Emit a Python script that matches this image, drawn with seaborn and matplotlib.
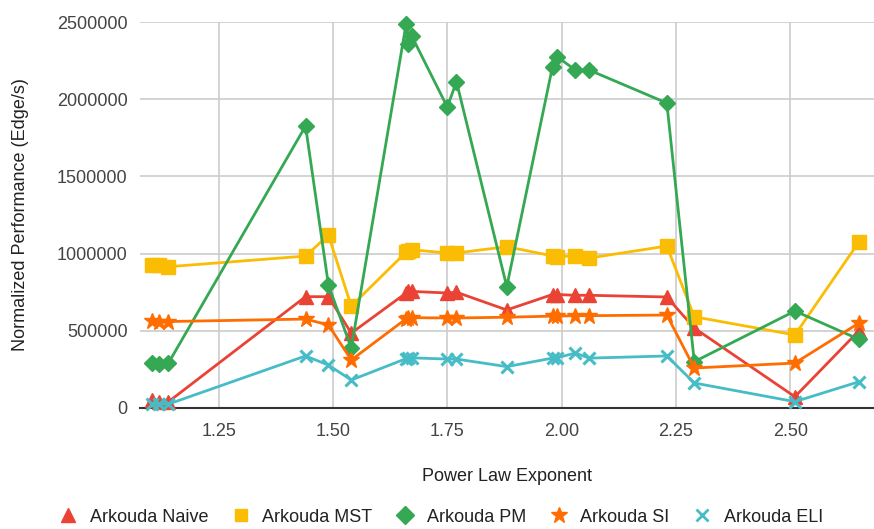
import numpy as np
import pandas as pd
import matplotlib
matplotlib.use("Agg")
import matplotlib.pyplot as plt
from matplotlib.lines import Line2D
from matplotlib.ticker import FixedLocator, FixedFormatter
import seaborn as sns

# ---- data ----
exponent = [1.105, 1.12, 1.14, 1.44, 1.49, 1.54, 1.66, 1.665, 1.672, 1.75, 1.77,
            1.88, 1.98, 1.99, 2.03, 2.06, 2.23, 2.29, 2.51, 2.65]

naive = [50000, 40000, 40000, 721000, 721000, 485000, 745000, 760000, 755000, 745000,
         750000, 635000, 735000, 735000, 730000, 730000, 719000, 518000, 73000, 500000]
mst = [926000, 926000, 915000, 984000, 1120000, 660000, 1010000, 1015000, 1025000, 1004000,
       1004000, 1045000, 985000, 980000, 985000, 971000, 1049000, 591000, 473000, 1075000]
pm = [290000, 285000, 290000, 1826000, 797000, 388000, 2490000, 2360000, 2410000, 1949000,
      2114000, 786000, 2211000, 2275000, 2189000, 2189000, 1975000, 300000, 628000, 445000]
si = [565000, 560000, 560000, 576000, 538000, 311000, 578000, 583000, 585000, 583000,
      583000, 588000, 595000, 595000, 598000, 598000, 602000, 259000, 291000, 550000]
eli = [28000, 25000, 25000, 337000, 278000, 181000, 320000, 323000, 325000, 317000,
       317000, 268000, 323000, 325000, 356000, 323000, 337000, 162000, 41000, 170000]

series_names = ["Arkouda Naive", "Arkouda MST", "Arkouda PM", "Arkouda SI", "Arkouda ELI"]
series_values = [naive, mst, pm, si, eli]

x_ticks = [1.25, 1.50, 1.75, 2.00, 2.25, 2.50]
x_tick_labels = ["1.25", "1.50", "1.75", "2.00", "2.25", "2.50"]
y_ticks = [0, 500000, 1000000, 1500000, 2000000, 2500000]
y_tick_labels = ["0", "500000", "1000000", "1500000", "2000000", "2500000"]

# ---- styling ----
colors = ["#EA4335", "#FBBC04", "#34A853", "#FF6D01", "#46BDC6"]
markers = ["^", "s", "D", "*", "x"]
msizes = [10, 10, 8, 12, 9]
mews = [1, 1, 1, 1, 2.2]

sns.set_theme(style="white")
plt.rcParams['font.family'] = ['Liberation Sans', 'DejaVu Sans']

fig = plt.figure(figsize=(8.74, 5.29), dpi=100)
W, H = 874, 529
ax = fig.add_axes([140 / W, 1 - 408 / H, 734 / W, 386 / H])

for name, vals, c, m, ms, mew in zip(series_names, series_values, colors, markers, msizes, mews):
    df = pd.DataFrame({"exponent": exponent, "value": vals})
    sns.lineplot(data=df, x="exponent", y="value", ax=ax, color=c, marker=m,
                 markersize=ms, markeredgecolor=c, markerfacecolor=c,
                 markeredgewidth=mew, linewidth=2, errorbar=None, legend=False,
                 clip_on=False, zorder=3)

ax.set_xlim(1.078, 2.683)
ax.set_ylim(0, 2500000)
ax.xaxis.set_major_locator(FixedLocator(x_ticks))
ax.xaxis.set_major_formatter(FixedFormatter(x_tick_labels))
ax.yaxis.set_major_locator(FixedLocator(y_ticks))
ax.yaxis.set_major_formatter(FixedFormatter(y_tick_labels))

ax.grid(True, color="#cccccc", linewidth=1.2)
ax.set_axisbelow(True)
for s in ["top", "right", "left"]:
    ax.spines[s].set_visible(False)
ax.spines["bottom"].set_color("#333333")
ax.spines["bottom"].set_linewidth(1.5)

ax.tick_params(axis="both", length=0, labelsize=13, labelcolor="#444444")
ax.tick_params(axis="x", pad=11)
ax.tick_params(axis="y", pad=9)

ax.set_xlabel("Power Law Exponent", fontsize=13, color="#222222", labelpad=20)
ax.set_ylabel("Normalized Performance (Edge/s)", fontsize=13, color="#222222", labelpad=20)

leg_sizes = [10, 9, 9, 12, 8]
handles = [Line2D([], [], linestyle="none", marker=m, markersize=s, color=c,
                  markeredgecolor=c, markeredgewidth=(2 if m == "x" else 1))
           for m, s, c in zip(markers, leg_sizes, colors)]
fig.legend(handles, series_names, loc="center", bbox_to_anchor=(441 / W, 1 - 517 / H),
           ncol=5, frameon=False, fontsize=13, handlelength=1.0, handletextpad=0.7,
           columnspacing=1.3, labelcolor="#222222")

fig.savefig("out.png", dpi=100)
